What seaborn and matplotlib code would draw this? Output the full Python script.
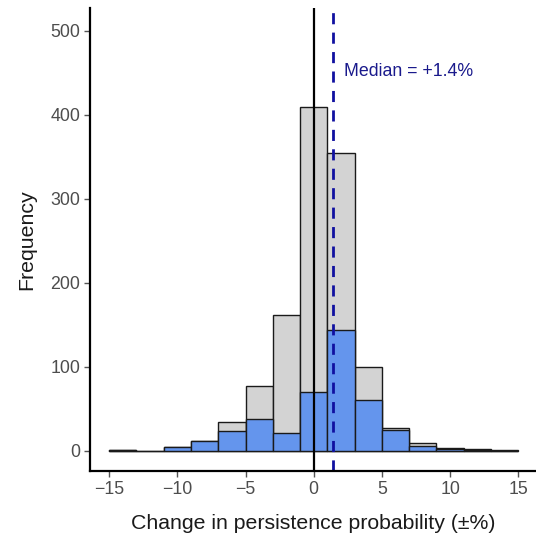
import numpy as np
import pandas as pd
import matplotlib
matplotlib.use("Agg")
import matplotlib.pyplot as plt
import seaborn as sns

# Data
bin_edges = [-15, -13, -11, -9, -7, -5, -3, -1, 1, 3, 5, 7, 9, 11, 13, 15]
all_counts = [1, 0, 5, 12, 34, 77, 162, 409, 355, 100, 27, 9, 3, 2, 1]
subset_counts = [1, 0, 4, 11, 24, 38, 21, 70, 144, 60, 25, 6, 2, 1, 0]
median_value = 1.4
x_ticks = [-15, -10, -5, 0, 5, 10, 15]
y_ticks = [0, 100, 200, 300, 400, 500]

centers = [(a + b) / 2 for a, b in zip(bin_edges[:-1], bin_edges[1:])]
df = pd.DataFrame({"center": centers, "all": all_counts, "subset": subset_counts})

sns.set_theme(style="white")
plt.rcParams["font.family"] = ["Liberation Sans", "DejaVu Sans"]

fig = plt.figure(figsize=(5.36, 5.45), dpi=100)
ax = fig.add_axes([0.168, 0.136, 0.832, 0.849])

sns.histplot(data=df, x="center", weights="all", bins=bin_edges, ax=ax,
             color="#d3d3d3", edgecolor="#1a1a1a", linewidth=1.0, alpha=1.0)
sns.histplot(data=df, x="center", weights="subset", bins=bin_edges, ax=ax,
             color="#6495ED", edgecolor="#1a1a1a", linewidth=1.0, alpha=1.0)

ax.axvline(0, color="black", linewidth=1.6)
ax.axvline(median_value, color="#1010a0", linewidth=2.0, linestyle=(0, (4, 3)))
ax.text(median_value + 0.8, 451, f"Median = +{median_value}%", color="#1a1a8c",
        fontsize=12.8, va="center", ha="left")

ax.set_xlim(-16.4, 16.3)
ax.set_ylim(-24, 527)
ax.set_xticks(x_ticks)
ax.set_xticklabels([str(t).replace("-", "\u2212") for t in x_ticks])
ax.set_yticks(y_ticks)
ax.tick_params(axis="both", colors="#555555", labelsize=12.8, length=4, width=1,
               direction="out", left=True, bottom=True, pad=3)
ax.tick_params(axis="both", labelcolor="#4d4d4d")
for side in ["top", "right"]:
    ax.spines[side].set_visible(False)
for side in ["left", "bottom"]:
    ax.spines[side].set_color("black")
    ax.spines[side].set_linewidth(1.6)

ax.set_xlabel("Change in persistence probability (\u00b1%)", fontsize=15.3,
              color="#1a1a1a", labelpad=12)
ax.set_ylabel("Frequency", fontsize=15.3, color="#1a1a1a", labelpad=10)
ax.grid(False)

fig.savefig("out.png", dpi=100)
